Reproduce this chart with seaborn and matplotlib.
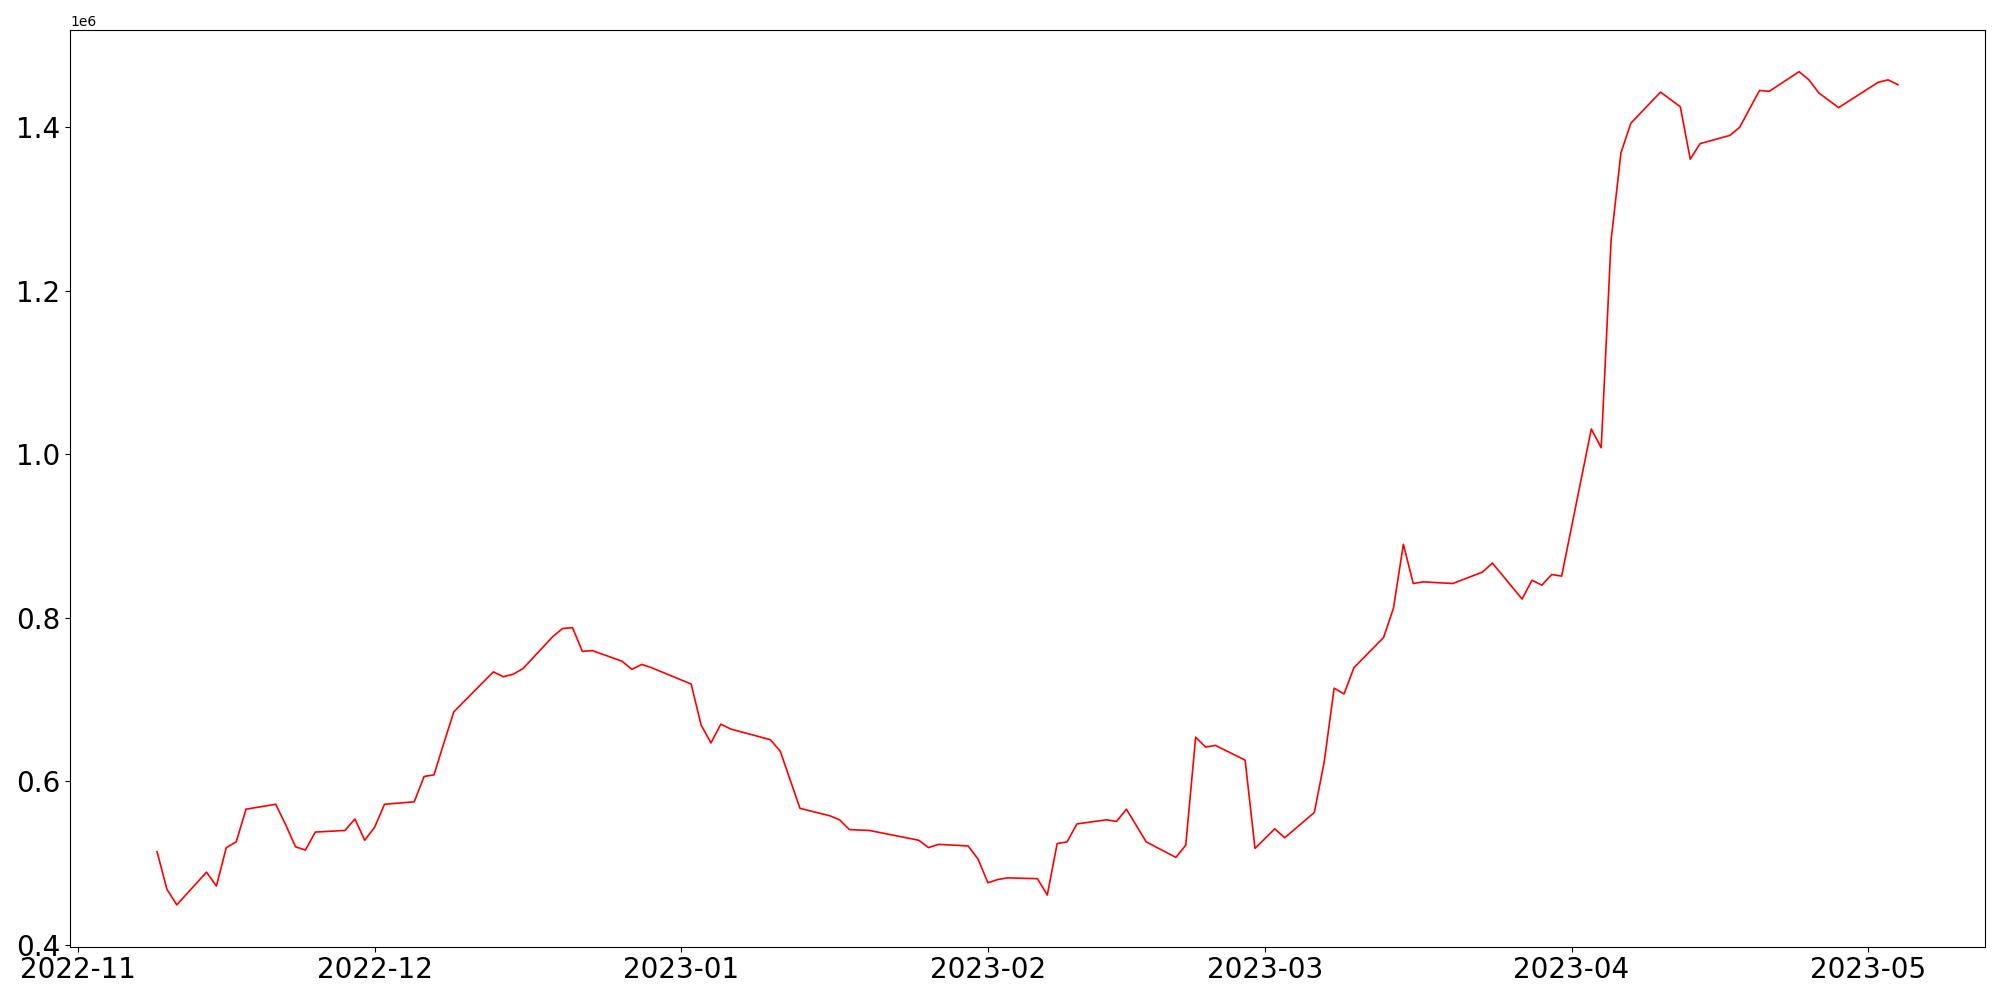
import numpy as np
import pandas as pd
import seaborn as sns
import matplotlib.pyplot as plt


# Datas (dias de pregão) e valores, em milhões
datas = [
    "2022-11-09", "2022-11-10", "2022-11-11", "2022-11-14", "2022-11-15", "2022-11-16",
    "2022-11-17", "2022-11-18", "2022-11-21", "2022-11-22", "2022-11-23", "2022-11-24",
    "2022-11-25", "2022-11-28", "2022-11-29", "2022-11-30", "2022-12-01", "2022-12-02",
    "2022-12-05", "2022-12-06", "2022-12-07", "2022-12-08", "2022-12-09", "2022-12-13",
    "2022-12-14", "2022-12-15", "2022-12-16", "2022-12-19", "2022-12-20", "2022-12-21",
    "2022-12-22", "2022-12-23", "2022-12-26", "2022-12-27", "2022-12-28", "2022-12-29",
    "2023-01-02", "2023-01-03", "2023-01-04", "2023-01-05", "2023-01-06", "2023-01-10",
    "2023-01-11", "2023-01-13", "2023-01-16", "2023-01-17", "2023-01-18", "2023-01-20",
    "2023-01-25", "2023-01-26", "2023-01-27", "2023-01-30", "2023-01-31", "2023-02-01",
    "2023-02-02", "2023-02-03", "2023-02-06", "2023-02-07", "2023-02-08", "2023-02-09",
    "2023-02-10", "2023-02-13", "2023-02-14", "2023-02-15", "2023-02-17", "2023-02-20",
    "2023-02-21", "2023-02-22", "2023-02-23", "2023-02-24", "2023-02-27", "2023-02-28",
    "2023-03-02", "2023-03-03", "2023-03-06", "2023-03-07", "2023-03-08", "2023-03-09",
    "2023-03-10", "2023-03-13", "2023-03-14", "2023-03-15", "2023-03-16", "2023-03-17",
    "2023-03-20", "2023-03-23", "2023-03-24", "2023-03-27", "2023-03-28", "2023-03-29",
    "2023-03-30", "2023-03-31", "2023-04-03", "2023-04-04", "2023-04-05", "2023-04-06",
    "2023-04-07", "2023-04-10", "2023-04-12", "2023-04-13", "2023-04-14", "2023-04-17",
    "2023-04-18", "2023-04-20", "2023-04-21", "2023-04-24", "2023-04-25", "2023-04-26",
    "2023-04-28", "2023-05-02", "2023-05-03", "2023-05-04",
]

valores_mi = [
    0.514, 0.468, 0.449, 0.489, 0.472, 0.519,
    0.526, 0.566, 0.572, 0.547, 0.520, 0.516,
    0.538, 0.540, 0.554, 0.528, 0.544, 0.572,
    0.575, 0.606, 0.608, 0.647, 0.685, 0.734,
    0.728, 0.731, 0.738, 0.777, 0.787, 0.788,
    0.759, 0.760, 0.747, 0.737, 0.743, 0.739,
    0.719, 0.669, 0.647, 0.670, 0.664, 0.651,
    0.637, 0.567, 0.558, 0.553, 0.541, 0.540,
    0.528, 0.519, 0.523, 0.521, 0.505, 0.476,
    0.480, 0.482, 0.481, 0.461, 0.524, 0.526,
    0.548, 0.553, 0.551, 0.566, 0.526, 0.507,
    0.522, 0.654, 0.642, 0.644, 0.626, 0.518,
    0.542, 0.531, 0.562, 0.624, 0.714, 0.707,
    0.739, 0.776, 0.812, 0.890, 0.842, 0.844,
    0.842, 0.856, 0.867, 0.823, 0.846, 0.840,
    0.853, 0.851, 1.031, 1.008, 1.262, 1.369,
    1.405, 1.443, 1.425, 1.361, 1.380, 1.390,
    1.400, 1.445, 1.444, 1.468, 1.458, 1.442,
    1.424, 1.455, 1.458, 1.452,
]


# DataFrame para plotagem
df = pd.DataFrame({
    'Data': pd.to_datetime(datas),
    'Valor': np.array(valores_mi) * 1e6,
})


# Plotagem do gráfico
fig, ax = plt.subplots(figsize=(20, 10), dpi=100)
sns.lineplot(x='Data', y='Valor', data=df, color='r', linewidth=1.2, ax=ax)

ax.set_xlabel('')
ax.set_ylabel('')
ax.tick_params(axis='both', labelsize=20)
fig.subplots_adjust(left=0.035, right=0.9925, bottom=0.0535, top=0.97)

plt.savefig('out.png')
